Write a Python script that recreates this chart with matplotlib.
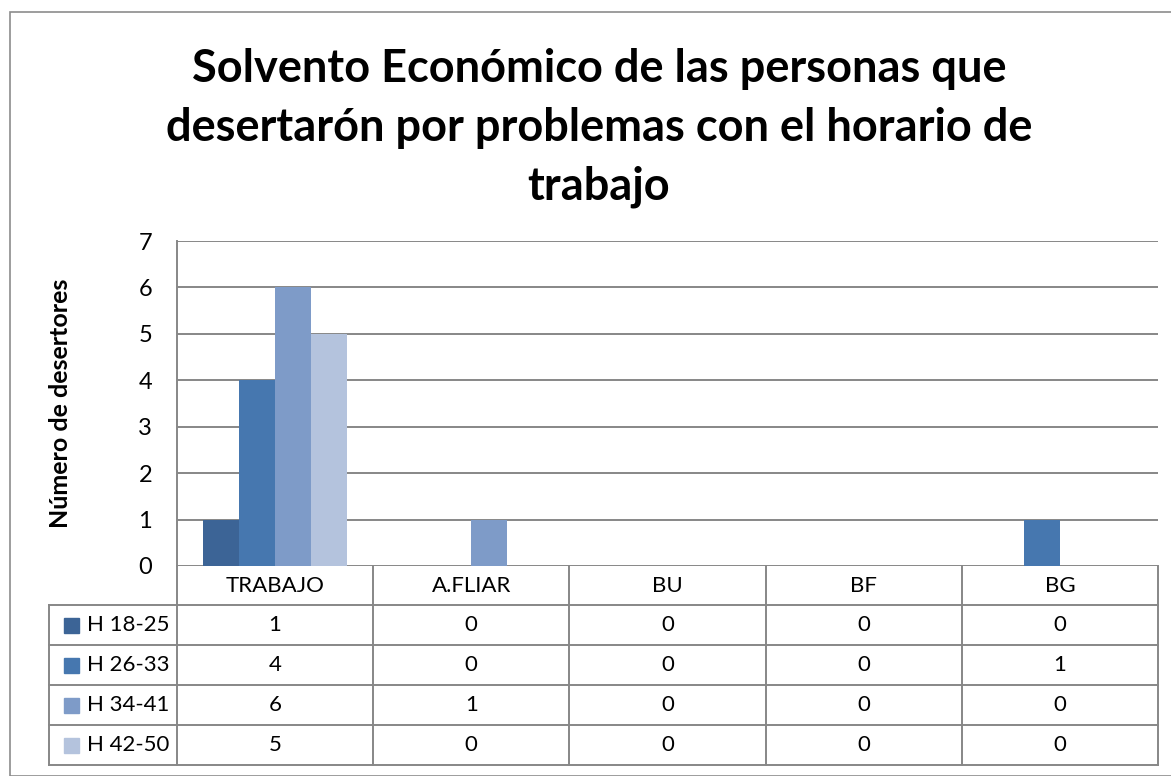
import matplotlib.pyplot as plt
from matplotlib.patches import Rectangle

plt.rcParams['font.family'] = ['Lato', 'DejaVu Sans']

categorias = ['TRABAJO', 'A.FLIAR', 'BU', 'BF', 'BG']
series = ['H 18-25', 'H 26-33', 'H 34-41', 'H 42-50']
h18_25 = [1, 0, 0, 0, 0]
h26_33 = [4, 0, 0, 0, 1]
h34_41 = [6, 1, 0, 0, 0]
h42_50 = [5, 0, 0, 0, 0]
valores = [h18_25, h26_33, h34_41, h42_50]
colores = ['#3C6496', '#4677AF', '#7E9BC8', '#B4C3DD']

titulo = 'Solvento Económico de las personas que\ndesertarón por problemas con el horario de\ntrabajo'

W, H = 1171, 776
fig = plt.figure(figsize=(W / 100, H / 100), dpi=100)

# marco del grafico
fig.patches.append(Rectangle((10 / W, 0), 1.2, 1 - 12 / H, transform=fig.transFigure,
                             fill=False, edgecolor='#8C8C8C', linewidth=1.2))

ax = fig.add_axes([177 / W, 1 - 566 / H, 981 / W, 325 / H])
gris = '#878787'

n = len(series)
ancho = 0.184
x = list(range(len(categorias)))
for i in range(n):
    pos = [k + (i - (n - 1) / 2) * ancho for k in x]
    ax.bar(pos, valores[i], width=ancho, color=colores[i], zorder=3)

ax.set_xlim(-0.5, len(categorias) - 0.5)
ax.set_ylim(0, 7)
ax.set_yticks(range(0, 8))
ax.tick_params(axis='y', length=0, pad=18, labelsize=17)
ax.set_xticks([])
for yv in range(0, 8):
    ax.axhline(yv, color=gris, linewidth=1.4, zorder=1)
for s in ['top', 'right', 'bottom']:
    ax.spines[s].set_visible(False)
ax.spines['left'].set_color(gris)
ax.spines['left'].set_linewidth(1.4)
ax.set_ylabel('Número de desertores', fontsize=18, fontweight='bold')
ax.yaxis.set_label_coords(-0.107, 0.5)

# tabla de datos
tr = ax.get_xaxis_transform()
fila = 40 / 325
cab = 39 / 325
x_izq = -0.5 - 128 / 196.2
x_der = len(categorias) - 0.5
y_fin = -cab - n * fila


def linea(xs, ys):
    ax.plot(xs, ys, color=gris, linewidth=1.4, transform=tr, clip_on=False, zorder=4)


# encabezado
linea([-0.5, -0.5], [0, y_fin])
for k in range(len(categorias)):
    linea([k + 0.5, k + 0.5], [0, y_fin])
    ax.text(k, -cab / 2, categorias[k], transform=tr, ha='center', va='center', fontsize=16)
linea([x_izq, x_izq], [-cab, y_fin])
for r in range(n + 1):
    yy = -cab - r * fila
    linea([x_izq, x_der], [yy, yy])

for i in range(n):
    yc = -cab - (i + 0.5) * fila
    ax.add_patch(Rectangle((x_izq + 15 / 196.2, yc - 7.5 / 325), 15 / 196.2, 15 / 325,
                           transform=tr, color=colores[i], clip_on=False))
    ax.text(x_izq + 38 / 196.2, yc, series[i], transform=tr, ha='left', va='center', fontsize=16)
    for k in range(len(categorias)):
        ax.text(k, yc, str(valores[i][k]), transform=tr, ha='center', va='center', fontsize=16)

fig.text(599 / W, 1 - 128 / H, titulo, ha='center', va='center', fontsize=32.5,
         fontweight='bold', linespacing=1.48)

fig.savefig('out.png', dpi=100)
